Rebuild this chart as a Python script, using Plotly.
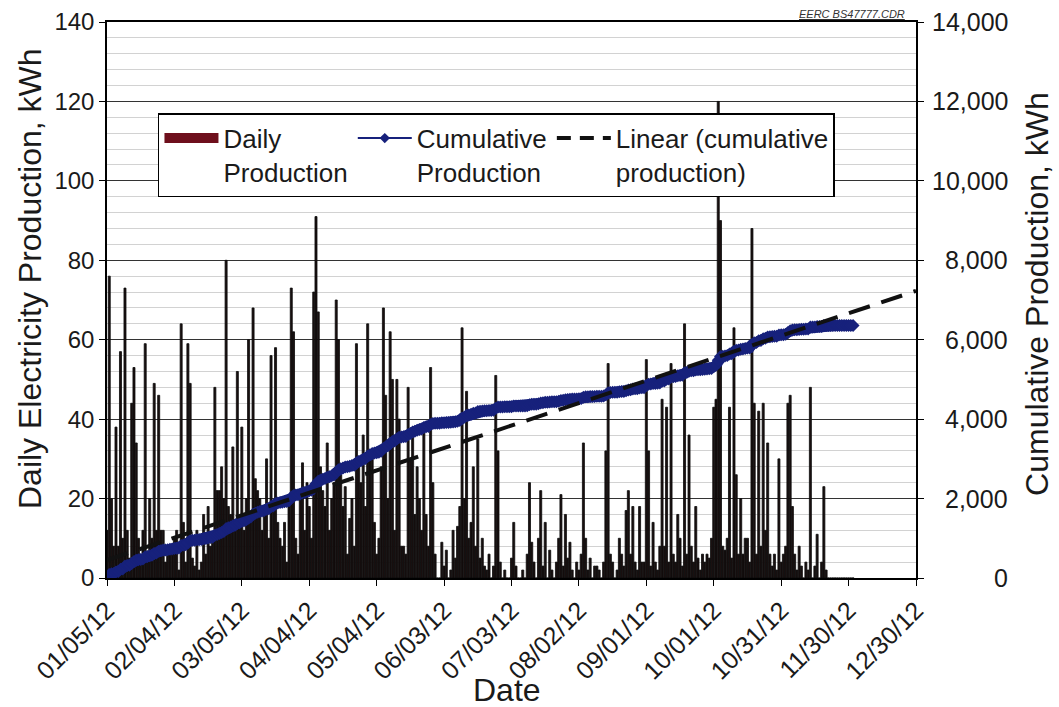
import numpy as np
import pandas as pd
import plotly.graph_objects as go

# ---------------- data ----------------
start_date = "2012-01-05"
daily_production = [
    # Jan 5 - Feb 3
    12, 76, 20, 8, 38, 8, 57, 10, 73, 12,
    5, 44, 53, 34, 10, 4, 12, 59, 6, 20,
    10, 49, 12, 46, 12, 12, 4, 8, 8, 8,
    # Feb 4 - Mar 4
    10, 12, 2, 64, 14, 4, 59, 49, 5, 3,
    12, 2, 4, 16, 6, 18, 8, 10, 48, 22,
    22, 28, 20, 80, 18, 16, 33, 12, 52, 15,
    # Mar 5 - Mar 30
    38, 12, 20, 60, 15, 68, 25, 22, 20, 12,
    16, 30, 10, 56, 18, 58, 14, 10, 8, 14,
    4, 20, 73, 62, 10, 6,
    # Mar 31 - May 9
    20, 29, 12, 24, 18, 10, 72, 91, 67, 28,
    22, 18, 34, 12, 20, 24, 70, 60, 26, 18,
    23, 6, 15, 20, 8, 59, 30, 24, 36, 18,
    64, 30, 32, 14, 6, 10, 28, 68, 46, 20,
    # May 10 - Jun 23
    62, 50, 12, 50, 40, 8, 8, 6, 48, 30,
    36, 16, 28, 20, 12, 38, 16, 8, 53, 24,
    6, 0, 0, 9, 3, 7, 0, 2, 12, 5,
    13, 18, 63, 20, 47, 10, 14, 28, 8, 35,
    5, 10, 3, 2, 6,
    # Jun 24 - Aug 2
    0, 3, 51, 32, 4, 0, 2, 0, 0, 5,
    14, 3, 0, 0, 2, 0, 6, 24, 9, 4,
    0, 10, 22, 3, 14, 0, 7, 2, 0, 4,
    10, 21, 3, 16, 5, 9, 2, 0, 4, 2,
    # Aug 3 - Sep 13
    6, 34, 10, 2, 5, 0, 3, 3, 2, 0,
    4, 32, 54, 6, 4, 0, 2, 10, 6, 3,
    17, 22, 6, 18, 4, 2, 18, 4, 4, 55,
    32, 3, 14, 4, 2, 8, 45, 8, 43, 4,
    54, 6,
    # Sep 14 - Oct 18
    4, 16, 10, 3, 64, 6, 36, 8, 4, 18,
    5, 2, 6, 4, 6, 5, 10, 43, 45, 120,
    90, 8, 7, 10, 43, 5, 63, 26, 6, 20,
    6, 10, 10, 4, 88,
    # Oct 19 - Dec 2
    44, 6, 42, 8, 44, 12, 34, 6, 3, 6,
    2, 30, 4, 6, 8, 44, 46, 18, 6, 2,
    8, 3, 0, 4, 2, 48, 0, 3, 11, 0,
    4, 23, 2, 0, 0, 0, 0, 0, 0, 0,
    0, 0, 0, 0, 0,
]
trend_dates = ["2012-01-05", "2012-12-30"]
trend_values = [450, 7230]

tick_dates = ["2012-01-05", "2012-02-04", "2012-03-05", "2012-04-04", "2012-05-04",
              "2012-06-03", "2012-07-03", "2012-08-02", "2012-09-01", "2012-10-01",
              "2012-10-31", "2012-11-30", "2012-12-30"]
tick_labels = ["01/05/12", "02/04/12", "03/05/12", "04/04/12", "05/04/12", "06/03/12",
               "07/03/12", "08/02/12", "09/01/12", "10/01/12", "10/31/12", "11/30/12",
               "12/30/12"]
right_tick_values = [0, 2000, 4000, 6000, 8000, 10000, 12000, 14000]
right_tick_labels = ["0", "2,000", "4,000", "6,000", "8,000", "10,000", "12,000", "14,000"]

dates = pd.date_range(start_date, periods=len(daily_production), freq="D")
cumulative = np.cumsum(daily_production)

FONT = "Arial, Liberation Sans, sans-serif"
TXT = "#1a1a1a"
BLUE = "#17217c"

fig = go.Figure()

fig.add_trace(go.Bar(
    x=dates, y=daily_production, showlegend=False,
    marker=dict(color="#1a1010", line=dict(color="#0a0a0a", width=0.8)),
))
fig.add_trace(go.Scatter(
    x=dates, y=cumulative, yaxis="y2", mode="lines+markers", showlegend=False,
    line=dict(color=BLUE, width=10), marker=dict(symbol="diamond", size=10, color=BLUE),
))
fig.add_trace(go.Scatter(
    x=trend_dates, y=trend_values, yaxis="y2", mode="lines", showlegend=False,
    line=dict(color="#111111", width=4, dash="22px,12px"),
))

# legend entries
fig.add_trace(go.Scatter(x=[None], y=[None], mode="lines", name="Daily<br>Production",
                         line=dict(color="#6e0f1c", width=10)))
fig.add_trace(go.Scatter(x=[None], y=[None], mode="lines+markers", name="Cumulative<br>Production",
                         line=dict(color=BLUE, width=2),
                         marker=dict(symbol="diamond", size=8, color=BLUE)))
fig.add_trace(go.Scatter(x=[None], y=[None], mode="lines", name="Linear (cumulative<br>production)",
                         line=dict(color="#111111", width=4, dash="14px,9px")))

annotations = [dict(
    text="<i><u>EERC BS47777.CDR</u></i>", xref="paper", yref="paper",
    x=0.989, y=1.0, xanchor="right", yanchor="bottom", showarrow=False,
    font=dict(size=11, family="Liberation Sans Narrow, Arial Narrow, Liberation Sans, Arial",
              color="#333333"),
)]
# right-aligned secondary axis labels
for v, lab in zip(right_tick_values, right_tick_labels):
    annotations.append(dict(
        text=lab, xref="paper", yref="y2", x=1.116, y=v, xanchor="right",
        yanchor="middle", showarrow=False, font=dict(size=25, family=FONT, color=TXT),
    ))
# axis titles
annotations.append(dict(
    text="Daily Electricity Production, kWh", xref="paper", yref="paper", x=-0.095, y=0.538,
    xanchor="center", yanchor="middle", textangle=-90, showarrow=False,
    font=dict(size=32, family=FONT, color=TXT),
))
annotations.append(dict(
    text="Cumulative Production, kWh", xref="paper", yref="paper", x=1.1496, y=0.511,
    xanchor="center", yanchor="middle", textangle=-90, showarrow=False,
    font=dict(size=32, family=FONT, color=TXT),
))
annotations.append(dict(
    text="Date", xref="paper", yref="paper", x=0.494, y=-0.201,
    xanchor="center", yanchor="middle", showarrow=False,
    font=dict(size=32, family=FONT, color=TXT),
))

fig.update_layout(
    width=1059, height=707,
    margin=dict(l=107, r=143, t=22, b=129, autoexpand=False),
    paper_bgcolor="white", plot_bgcolor="white",
    font=dict(family=FONT, color=TXT, size=22),
    bargap=0.1,
    showlegend=True,
    legend=dict(
        orientation="h", x=0.063, y=0.836, xanchor="left", yanchor="top",
        bgcolor="white", bordercolor="black", borderwidth=1.5,
        font=dict(size=26, family=FONT), itemwidth=54, valign="top",
        tracegroupgap=0,
    ),
    xaxis=dict(
        type="date", automargin=False,
        range=["2012-01-05", "2012-12-30"],
        tickvals=tick_dates, ticktext=tick_labels, tickangle=-45,
        tickfont=dict(size=25), ticks="outside", ticklen=6, tickcolor="black",
        showline=True, linecolor="black", linewidth=1.5, mirror=True,
        showgrid=False, zeroline=False,
    ),
    yaxis=dict(
        range=[0, 140], dtick=20, tickfont=dict(size=24), automargin=False,
        ticks="outside", ticklen=6, tickcolor="black",
        showline=True, linecolor="black", linewidth=1.5,
        showgrid=True, gridcolor="#333333", gridwidth=1,
        minor=dict(dtick=4, showgrid=True, gridcolor="#d2d2d2", gridwidth=1),
        zeroline=False,
    ),
    yaxis2=dict(
        range=[0, 14000], dtick=2000, overlaying="y", side="right", automargin=False,
        showticklabels=False, ticks="outside", ticklen=6, tickcolor="black",
        showline=True, linecolor="black", linewidth=1.5,
        showgrid=False, zeroline=False,
    ),
    annotations=annotations,
)

fig.write_html("out.html", config={"displayModeBar": False},
               post_script="document.body.style.margin='0';")
